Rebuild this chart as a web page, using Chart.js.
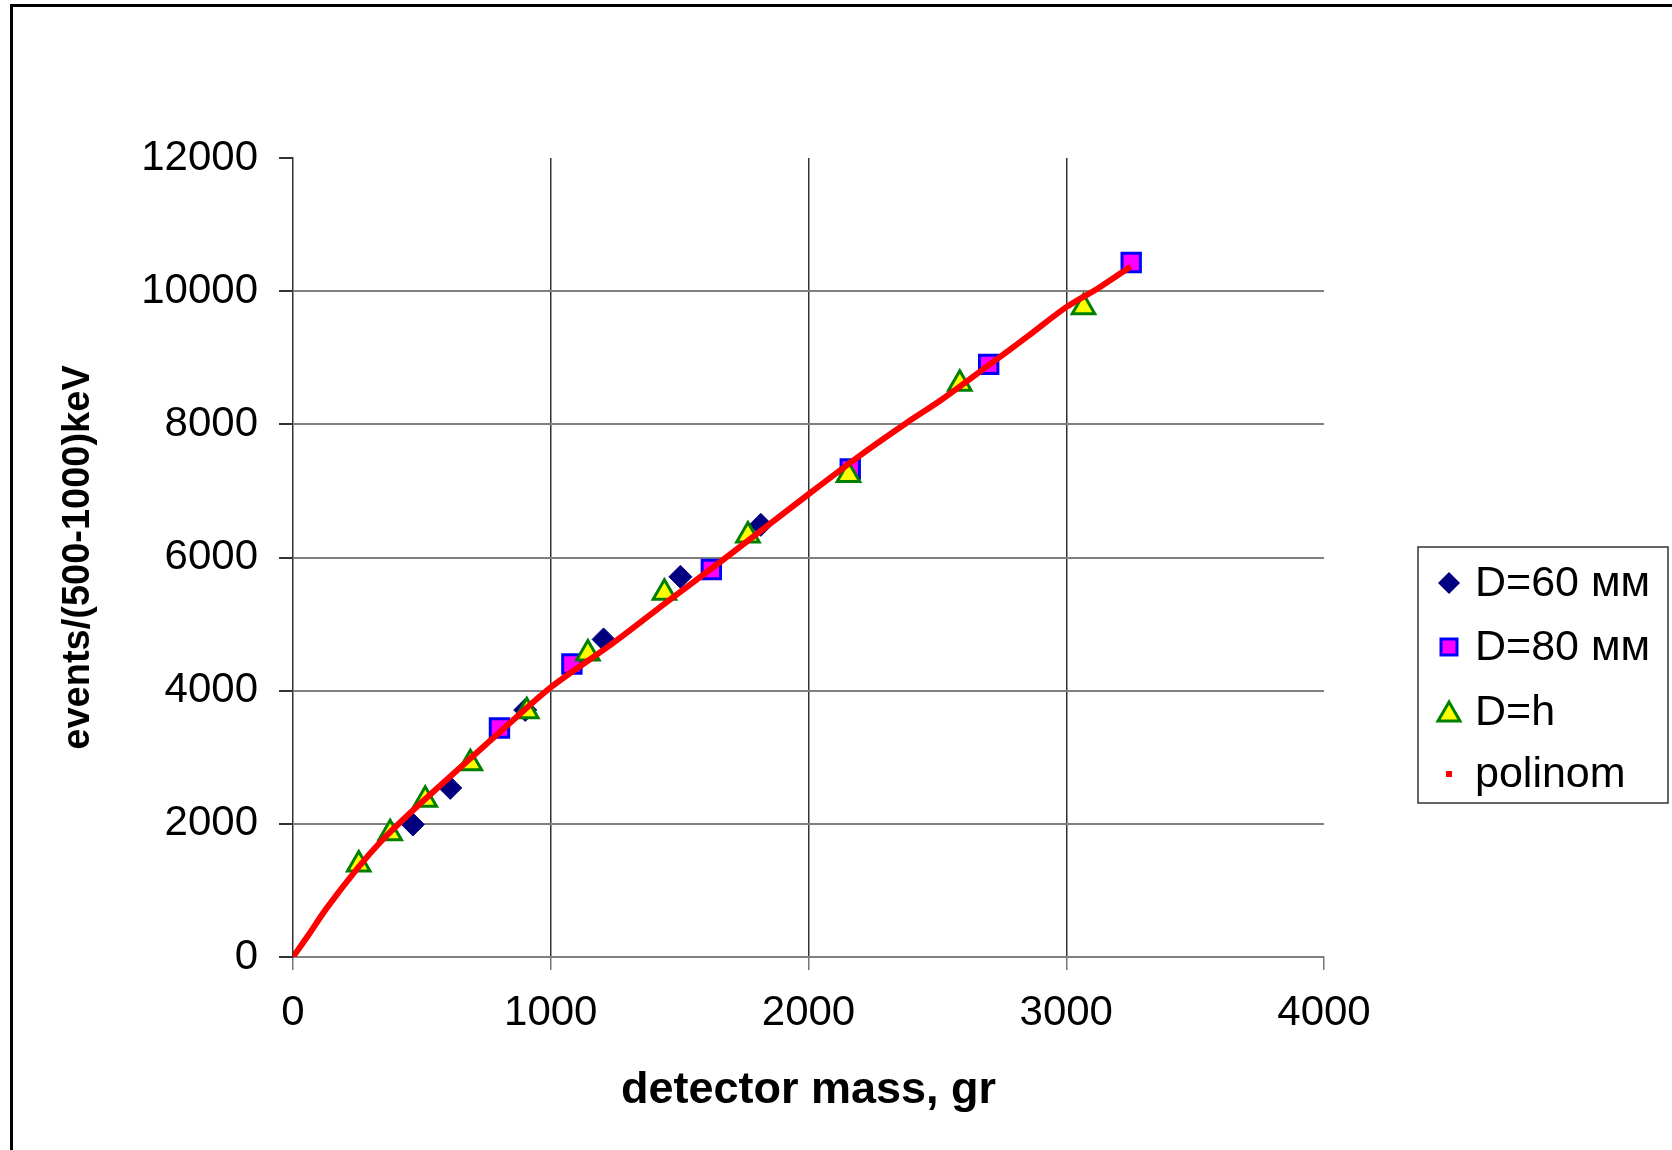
<!DOCTYPE html>
<html>
<head>
<meta charset="utf-8">
<title>events vs detector mass</title>
<script src="https://cdn.jsdelivr.net/npm/chart.js@4/dist/chart.umd.min.js"></script>
<style>
  html, body { margin: 0; padding: 0; background: #fff; overflow: hidden; }
  #wrap { position: relative; width: 1672px; height: 1150px; }
  #frame { position: absolute; left: 10px; top: 4px; width: 1700px; height: 1200px;
           border-left: 3px solid #000; border-top: 3px solid #000; pointer-events: none; }
</style>
</head>
<body>
<div id="wrap">
  <canvas id="myChart"></canvas>
  <div id="frame"></div>
</div>
<script>
// data
const d60Mass = [465, 610, 901, 1205, 1503, 1815];
const d60Events = [1990, 2540, 3710, 4770, 5710, 6490];

const d80Mass = [801, 1082, 1623, 2162, 2699, 3252];
const d80Events = [3440, 4400, 5820, 7330, 8900, 10430];

const dhMass = [255, 377, 513, 688, 907, 1144, 1441, 1765, 2155, 2587, 3067];
const dhEvents = [1390, 1860, 2360, 2910, 3690, 4560, 5470, 6330, 7240, 8610, 9760];

const polMass = [0, 60, 130, 250, 340, 440, 610, 820, 1000, 1240, 1460, 1660, 2000, 2210, 2380, 2520, 2710, 2850, 3000, 3130, 3250];
const polEvents = [0, 330, 730, 1330, 1730, 2110, 2710, 3440, 4050, 4710, 5360, 5940, 6950, 7560, 8020, 8380, 8920, 9320, 9760, 10060, 10370];

const xTicks = [0, 1000, 2000, 3000, 4000];
const yTicks = [0, 2000, 4000, 6000, 8000, 10000, 12000];

const legendLabels = ['D=60 мм', 'D=80 мм', 'D=h', 'polinom'];

function pts(xs, ys) {
    return xs.map((x, i) => ({ x: x, y: ys[i] }));
}

// legend drawn by hand: framed box on the right
const legendBox = {
    id: 'legendBox',
    afterDraw(chart) {
        const ctx = chart.ctx;
        const left = 1418, top = 547, w = 250, h = 256;
        const mx = 1449, tx = 1475;
        const rows = [583, 647, 712, 774];

        ctx.save();
        ctx.strokeStyle = '#333';
        ctx.lineWidth = 1.5;
        ctx.strokeRect(left, top, w, h);

        // diamond
        ctx.fillStyle = '#000080';
        ctx.beginPath();
        ctx.moveTo(mx, rows[0] - 11);
        ctx.lineTo(mx + 11, rows[0]);
        ctx.lineTo(mx, rows[0] + 11);
        ctx.lineTo(mx - 11, rows[0]);
        ctx.closePath();
        ctx.fill();

        // square
        ctx.fillStyle = '#FF00FF';
        ctx.strokeStyle = '#0000FF';
        ctx.lineWidth = 3;
        ctx.fillRect(mx - 8, rows[1] - 8, 16, 16);
        ctx.strokeRect(mx - 8, rows[1] - 8, 16, 16);

        // triangle
        ctx.fillStyle = '#FFFF00';
        ctx.strokeStyle = '#008000';
        ctx.beginPath();
        ctx.moveTo(mx, rows[2] - 10);
        ctx.lineTo(mx + 11, rows[2] + 9);
        ctx.lineTo(mx - 11, rows[2] + 9);
        ctx.closePath();
        ctx.fill();
        ctx.stroke();

        // small red dot
        ctx.fillStyle = '#FF0000';
        ctx.fillRect(mx - 3, rows[3] - 3, 6, 6);

        ctx.fillStyle = '#000';
        ctx.font = '43px "Liberation Sans", Arial, sans-serif';
        ctx.textBaseline = 'middle';
        ctx.textAlign = 'left';
        legendLabels.forEach((t, i) => ctx.fillText(t, tx, rows[i] + 1));
        ctx.restore();
    }
};

const tickFont = { family: '"Liberation Sans", Arial, sans-serif', size: 42 };
const plain = v => String(v); // no thousands separator

const ctx = document.getElementById('myChart').getContext('2d');
const myChart = new Chart(ctx, {
    type: 'scatter',
    data: {
        datasets: [
            {
                label: legendLabels[3],
                data: pts(polMass, polEvents),
                showLine: true,
                borderColor: '#FF0000',
                borderWidth: 6,
                pointRadius: 0,
                tension: 0.3,
                order: 0
            },
            {
                label: legendLabels[2],
                data: pts(dhMass, dhEvents),
                pointStyle: 'triangle',
                pointRadius: 13,
                backgroundColor: '#FFFF00',
                borderColor: '#008000',
                borderWidth: 3,
                order: 1
            },
            {
                label: legendLabels[1],
                data: pts(d80Mass, d80Events),
                pointStyle: 'rect',
                pointRadius: 13,
                backgroundColor: '#FF00FF',
                borderColor: '#0000FF',
                borderWidth: 3,
                order: 2
            },
            {
                label: legendLabels[0],
                data: pts(d60Mass, d60Events),
                pointStyle: 'rectRot',
                pointRadius: 11.5,
                backgroundColor: '#000080',
                borderColor: '#000080',
                borderWidth: 1,
                order: 3
            }
        ]
    },
    options: {
        responsive: true,
        maintainAspectRatio: false,
        animation: false,
        events: [],
        layout: { padding: { left: 0, top: 158, right: 348, bottom: 0 } },
        plugins: {
            legend: { display: false },
            tooltip: { enabled: false }
        },
        scales: {
            x: {
                type: 'linear',
                min: 0,
                max: 4000,
                afterFit: s => { s.height = 193; },
                afterBuildTicks: s => { s.ticks = xTicks.map(v => ({ value: v })); },
                ticks: { color: '#000', font: tickFont, padding: 18, maxRotation: 0, callback: plain },
                grid: {
                    color: c => (c.tick && (c.tick.value === 0 || c.tick.value === 4000)) ? 'rgba(0,0,0,0)' : '#333',
                    lineWidth: 1.5,
                    tickColor: '#777',
                    tickLength: 13
                },
                border: { display: true, color: '#808080', width: 2 },
                title: {
                    display: true,
                    text: 'detector mass, gr',
                    color: '#000',
                    font: { family: '"Liberation Sans", Arial, sans-serif', size: 45, weight: 'bold' },
                    padding: { top: 0, bottom: 32 }
                }
            },
            y: {
                type: 'linear',
                min: 0,
                max: 12000,
                afterFit: s => { s.width = 293; },
                afterBuildTicks: s => { s.ticks = yTicks.map(v => ({ value: v })); },
                ticks: { color: '#000', font: tickFont, padding: 21, callback: plain },
                grid: {
                    color: c => (c.tick && (c.tick.value === 0 || c.tick.value === 12000)) ? 'rgba(0,0,0,0)' : '#808080',
                    lineWidth: 2,
                    tickColor: '#333',
                    tickLength: 14
                },
                border: { display: true, color: '#333', width: 1.5 },
                title: {
                    display: true,
                    text: 'events/(500-1000)keV',
                    color: '#000',
                    font: { family: '"Liberation Sans", Arial, sans-serif', size: 38, weight: 'bold' },
                    padding: { top: 56, bottom: 0 }
                }
            }
        }
    },
    plugins: [legendBox]
});
</script>
</body>
</html>
